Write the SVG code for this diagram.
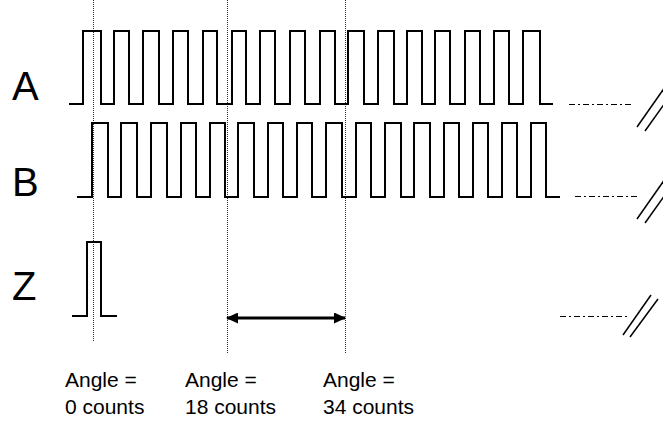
<svg xmlns="http://www.w3.org/2000/svg" width="663" height="423" viewBox="0 0 663 423">
<style>
.wave{fill:none;stroke:#000;stroke-width:2;stroke-linejoin:miter}
.guide{fill:none;stroke:#333;stroke-width:1;stroke-dasharray:1 1}
.dd{fill:none;stroke:#000;stroke-width:1;stroke-dasharray:6 3 2 3}
.slash{fill:none;stroke:#000;stroke-width:1.5}
.lbl{font-family:"Liberation Sans",Arial,sans-serif;font-size:40px;fill:#000}
.cap{font-family:"Liberation Sans",Arial,sans-serif;font-size:21px;fill:#000}
</style>
<defs>
<marker id="ah" viewBox="0 0 12 11" refX="11" refY="5.5" markerWidth="12" markerHeight="11" markerUnits="userSpaceOnUse" orient="auto-start-reverse">
<path d="M0,0 L12,5.5 L0,11 Z" fill="#000"/>
</marker>
</defs>
<g id="guides">
<line class="guide" x1="93.5" y1="0" x2="93.5" y2="342"/>
<line class="guide" x1="227.5" y1="0" x2="227.5" y2="353"/>
<line class="guide" x1="345.5" y1="0" x2="345.5" y2="353"/>
</g>
<g id="signalA">
<text class="lbl" x="12" y="100">A</text>
<path class="wave" d="M69,104 H83 V31 H101 V104 H114 V31 H129 V104 H143 V31 H159 V104 H173 V31 H188 V104 H203 V31 H217 V104 H232 V31 H246 V104 H260 V31 H275 V104 H290 V31 H305 V104 H320 V31 H335 V104 H348 V31 H364 V104 H378 V31 H394 V104 H407 V31 H422 V104 H435 V31 H450 V104 H465 V31 H480 V104 H494 V31 H509 V104 H523 V31 H540 V104 H553"/>
<line class="dd" x1="569" y1="104.5" x2="634" y2="104.5"/>
<line class="slash" x1="637" y1="127" x2="665" y2="87"/>
<line class="slash" x1="645" y1="131" x2="665" y2="103"/>
</g>
<g id="signalB">
<text class="lbl" x="12" y="196">B</text>
<path class="wave" d="M77,197 H92 V123 H108 V197 H121 V123 H137 V197 H151 V123 H167 V197 H181 V123 H196 V197 H210 V123 H225 V197 H238 V123 H254 V197 H268 V123 H283 V197 H297 V123 H312 V197 H326 V123 H342 V197 H356 V123 H371 V197 H385 V123 H401 V197 H414 V123 H430 V197 H444 V123 H459 V197 H473 V123 H488 V197 H502 V123 H517 V197 H531 V123 H546 V197 H560"/>
<line class="dd" x1="575" y1="196.5" x2="640" y2="196.5"/>
<line class="slash" x1="637" y1="219" x2="665" y2="179"/>
<line class="slash" x1="645" y1="223" x2="665" y2="195"/>
</g>
<g id="signalZ">
<text class="lbl" x="12" y="300">Z</text>
<path class="wave" d="M72,316 H87 V242 H101 V316 H117"/>
<line class="dd" x1="560" y1="316.5" x2="630" y2="316.5"/>
<line class="slash" x1="623" y1="335" x2="651" y2="295"/>
<line class="slash" x1="630" y1="337" x2="658" y2="299"/>
</g>
<g id="connectors">
<line x1="227" y1="318" x2="345" y2="318" stroke="#000" stroke-width="3" marker-start="url(#ah)" marker-end="url(#ah)"/>
</g>
<g id="labels">
<text class="cap" x="65" y="387">Angle =</text>
<text class="cap" x="65" y="414">0 counts</text>
<text class="cap" x="185" y="387">Angle =</text>
<text class="cap" x="185" y="414">18 counts</text>
<text class="cap" x="323" y="387">Angle =</text>
<text class="cap" x="323" y="414">34 counts</text>
</g>
</svg>
